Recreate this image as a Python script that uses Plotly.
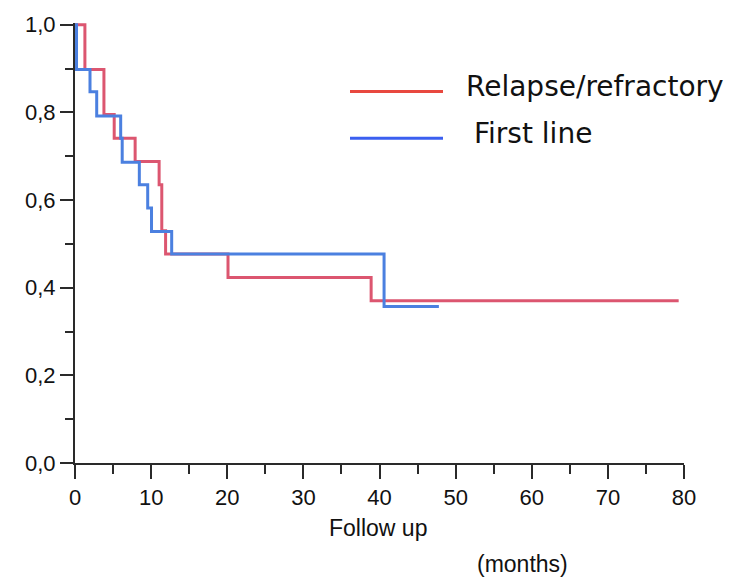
import plotly.graph_objects as go

# Kaplan-Meier step data (months, survival probability); value holds from t_i until t_{i+1}
relapse_t = [0, 1.3, 3.8, 5.15, 7.9, 11.05, 11.4, 11.9, 20.1, 38.9, 79.3]
relapse_s = [1.0, 0.898, 0.795, 0.741, 0.688, 0.635, 0.530, 0.477, 0.423, 0.370, 0.370]

first_t = [0, 0.2, 1.97, 2.85, 6.0, 6.2, 8.45, 9.55, 10.05, 12.7, 40.6, 47.8]
first_s = [1.0, 0.898, 0.847, 0.792, 0.741, 0.686, 0.635, 0.582, 0.528, 0.477, 0.357, 0.357]

series_names = ["Relapse/refractory", "First line"]
x_ticks = [0, 10, 20, 30, 40, 50, 60, 70, 80]
y_ticks = [0.0, 0.2, 0.4, 0.6, 0.8, 1.0]

W, H = 747, 577
L, R, T, B = 75, 63, 20, 114
pw, ph = W - L - R, H - T - B

def px_x(p):
    return (p - L) / pw

def px_y(p):
    return (H - B - p) / ph

fig = go.Figure()
fig.add_trace(go.Scatter(x=relapse_t, y=relapse_s, mode="lines", line_shape="hv",
                         line=dict(color="#dc5670", width=3), name=series_names[0],
                         showlegend=False))
fig.add_trace(go.Scatter(x=first_t, y=first_s, mode="lines", line_shape="hv",
                         line=dict(color="#4b80e0", width=3), name=series_names[1],
                         showlegend=False))

axis_col = "#2a2a2a"
fig.update_xaxes(range=[0, 80], tickvals=x_ticks, ticks="outside", ticklen=14, tickwidth=2,
                 tickcolor=axis_col, showline=True, linecolor=axis_col, linewidth=2,
                 showgrid=False, zeroline=False,
                 minor=dict(dtick=5, ticks="outside", ticklen=9, tickwidth=2, tickcolor=axis_col),
                 tickfont=dict(family="Liberation Sans, Arial", size=22, color="#111"))
fig.update_yaxes(range=[0, 1.004], tickvals=y_ticks, tickformat=".1f", ticks="outside",
                 ticklen=13, tickwidth=2, tickcolor=axis_col, showline=True,
                 linecolor=axis_col, linewidth=2, showgrid=False, zeroline=False,
                 minor=dict(dtick=0.1, ticks="outside", ticklen=8, tickwidth=2, tickcolor=axis_col),
                 tickfont=dict(family="Liberation Sans, Arial", size=22, color="#111"))

# custom legend
legend_cols = ["#e8483f", "#3b5ff0"]
legend_y = [89, 136]
legend_text_x = [464, 472]
for name, col, ly, tx in zip(series_names, legend_cols, legend_y, legend_text_x):
    fig.add_shape(type="line", xref="paper", yref="paper", x0=px_x(350), x1=px_x(443),
                  y0=px_y(ly), y1=px_y(ly), line=dict(color=col, width=3))
    fig.add_annotation(xref="paper", yref="paper", x=px_x(tx), y=px_y(ly - 5),
                       xanchor="left", yanchor="middle", showarrow=False, text=name,
                       font=dict(family="DejaVu Sans", size=28, color="#111"))

fig.add_annotation(xref="paper", yref="paper", x=px_x(378), y=px_y(528), xanchor="center",
                   yanchor="middle", showarrow=False, text="Follow up",
                   font=dict(family="Liberation Sans, Arial", size=23, color="#111"))
fig.add_annotation(xref="paper", yref="paper", x=px_x(522), y=px_y(565), xanchor="center",
                   yanchor="middle", showarrow=False, text="(months)",
                   font=dict(family="Liberation Sans, Arial", size=23, color="#111"))

fig.update_layout(width=W, height=H, margin=dict(l=L, r=R, t=T, b=B),
                  paper_bgcolor="white", plot_bgcolor="white", separators=",.",
                  showlegend=False)

fig.write_html("out.html")
